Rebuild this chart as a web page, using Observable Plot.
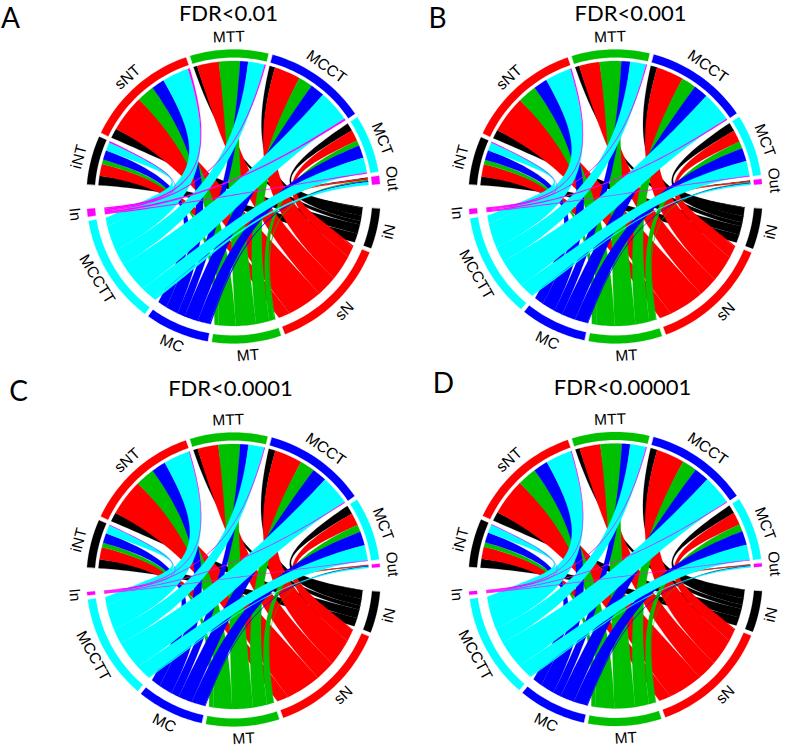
<!DOCTYPE html>
<html>
<head>
<meta charset="utf-8">
<script src="https://cdn.jsdelivr.net/npm/d3@7"></script>
<script src="https://cdn.jsdelivr.net/npm/@observablehq/plot@0.6"></script>
<style>html,body{margin:0;padding:0;background:#fff}svg{display:block}</style>
</head>
<body>
<div id="chart"></div>
<script>
// Categories
const sources = ["iN", "sN", "MT", "MC", "MCCTT", "In"];
const targets = ["iNT", "sNT", "MTT", "MCCT", "MCT", "Out"];
const stateColors = ["#000000", "#ff0000", "#00c000", "#0000ff", "#00ffff", "#ff00ff"];

// Flows: rows = sources, columns = targets
const flowsA = [
  [4.0, 4.2, 1.6, 2.4, 3.5, 0.3],
  [5.2, 16.0, 9.4, 11.4, 4.8, 0.7],
  [1.9, 7.6, 9.1, 6.1, 2.3, 0.5],
  [4.1, 5.7, 3.5, 6.2, 5.5, 0.5],
  [3.7, 11.5, 7.1, 13.7, 6.5, 1.2],
  [0.5, 0.8, 0.5, 0.8, 0.4, 0.0]
];
const flowsB = [
  [3.7, 3.8, 1.8, 2.8, 3.8, 0.2],
  [5.3, 16.0, 8.8, 11.8, 5.2, 0.5],
  [2.0, 8.2, 9.3, 6.3, 3.0, 0.3],
  [4.2, 6.0, 3.8, 6.2, 5.7, 0.3],
  [3.6, 11.2, 6.8, 13.0, 6.4, 0.6],
  [0.3, 0.5, 0.4, 0.5, 0.3, 0.0]
];
const flowsC = [
  [3.8, 3.9, 1.9, 2.9, 3.8, 0.1],
  [5.2, 15.8, 8.9, 12.0, 5.4, 0.3],
  [2.0, 8.3, 9.3, 6.3, 3.1, 0.1],
  [4.2, 6.2, 3.6, 6.3, 6.0, 0.3],
  [3.7, 11.3, 6.8, 12.7, 6.6, 0.5],
  [0.2, 0.3, 0.3, 0.3, 0.2, 0.0]
];
const flowsD = [
  [3.8, 3.9, 1.9, 2.9, 3.7, 0.1],
  [5.2, 15.7, 8.9, 12.1, 5.4, 0.3],
  [2.0, 8.3, 9.2, 6.3, 3.1, 0.1],
  [4.3, 6.3, 3.6, 6.4, 6.0, 0.3],
  [3.6, 11.2, 6.8, 12.6, 6.6, 0.5],
  [0.2, 0.3, 0.3, 0.3, 0.2, 0.0]
];

// Panel layout
const panels = [
  {letter: "A", title: "FDR<0.01",    flows: flowsA, cx: 233, cy: 196,   tx: 228, ty: 13,  lx: 10,  ly: 19},
  {letter: "B", title: "FDR<0.001",   flows: flowsB, cx: 615, cy: 196,   tx: 630, ty: 13,  lx: 437, ly: 19},
  {letter: "C", title: "FDR<0.0001",  flows: flowsC, cx: 233, cy: 579,   tx: 230, ty: 388, lx: 18,  ly: 392},
  {letter: "D", title: "FDR<0.00001", flows: flowsD, cx: 615, cy: 578.5, tx: 622, ty: 387, lx: 443, ly: 384}
];
const ringOuter = 147, ringInner = 139, rSource = 129.5, rTarget = 135.5, rLabel = 159.5;
const smallGap = 1.7, bigGap = 9.7, startAngle = 94.8;
const mu = 0.28, spreadSource = 0.78, spreadTarget = 0.2;

const rad = (a) => a * Math.PI / 180;
const polygons = [], labels = [];
let uid = 0;

for (const p of panels) {
  const pt = (a, r) => [p.cx + r * Math.sin(rad(a)), p.cy - r * Math.cos(rad(a))];
  const rowSum = p.flows.map((r) => d3.sum(r));
  const colSum = targets.map((_, j) => d3.sum(p.flows, (r) => r[j]));
  const total = d3.sum(rowSum) + d3.sum(colSum);
  const k = (360 - 10 * smallGap - 2 * bigGap) / total;

  const pushPoly = (points, fill) => {
    const z = uid++;
    for (const [x, y] of points) polygons.push({x, y, z, fill});
  };
  const arc = (a0, a1, r, n = 24) => d3.range(n + 1).map((i) => pt(a0 + (a1 - a0) * i / n, r));

  // sector angles
  let a = startAngle;
  const sectS = [], sectT = [];
  sources.forEach((name, i) => {
    const e = a + rowSum[i] * k;
    sectS.push([a, e]);
    a = e + (i === sources.length - 1 ? bigGap : smallGap);
  });
  targets.forEach((name, j) => {
    const e = a + colSum[j] * k;
    sectT.push([a, e]);
    a = e + (j === targets.length - 1 ? bigGap : smallGap);
  });

  // ribbon end positions
  const sPos = sources.map(() => []), tPos = sources.map(() => []);
  sources.forEach((_, i) => {
    let s = sectS[i][0];
    for (let j = targets.length - 1; j >= 0; j--) {
      const w = p.flows[i][j] * k;
      sPos[i][j] = [s, s + w];
      s += w;
    }
  });
  targets.forEach((_, j) => {
    let t = sectT[j][0];
    sources.forEach((_, i) => {
      const w = p.flows[i][j] * k;
      tPos[i][j] = [t, t + w];
      t += w;
    });
  });

  // cubic edge from a source angle to a target angle; each end keeps some of
  // the offset it has from the middle of its sector, so bundles stay wide
  const ctrl = (a0, r, mid, spread) => {
    const P = pt(a0, r), M = pt(mid, r);
    return [
      p.cx + mu * (M[0] - p.cx) + spread * (P[0] - M[0]),
      p.cy + mu * (M[1] - p.cy) + spread * (P[1] - M[1])
    ];
  };
  const edge = (as, ms, at, mt, n = 48) => {
    const A = pt(as, rSource), B = pt(at, rTarget);
    const C1 = ctrl(as, rSource, ms, spreadSource), C2 = ctrl(at, rTarget, mt, spreadTarget);
    return d3.range(n + 1).map((i) => {
      const t = i / n, v = 1 - t;
      const b0 = v * v * v, b1 = 3 * v * v * t, b2 = 3 * v * t * t, b3 = t * t * t;
      return [b0 * A[0] + b1 * C1[0] + b2 * C2[0] + b3 * B[0], b0 * A[1] + b1 * C1[1] + b2 * C2[1] + b3 * B[1]];
    });
  };

  // ribbons
  sources.forEach((_, i) => {
    const ms = d3.mean(sectS[i]);
    targets.forEach((_, j) => {
      if (p.flows[i][j] <= 0) return;
      const mt = d3.mean(sectT[j]);
      const [s0, s1] = sPos[i][j], [t0, t1] = tPos[i][j];
      pushPoly([
        ...arc(s0, s1, rSource, 8),
        ...edge(s1, ms, t0, mt),
        ...arc(t0, t1, rTarget, 8),
        ...edge(s0, ms, t1, mt).reverse()
      ], stateColors[i]);
    });
  });

  // rings and sector labels
  const ring = (names, sect) => names.forEach((name, i) => {
    const [a0, a1] = sect[i];
    pushPoly([...arc(a0, a1, ringOuter), ...arc(a1, a0, ringInner)], stateColors[i]);
    const m = (a0 + a1) / 2, mm = ((m % 360) + 360) % 360;
    const [x, y] = pt(m, rLabel);
    labels.push({name, x, y, rotate: mm > 90 && mm < 270 ? mm - 180 : mm});
  });
  ring(sources, sectS);
  ring(targets, sectT);
}

const chart = Plot.plot({
  width: 787,
  height: 751,
  margin: 0,
  style: {background: "#fff"},
  x: {domain: [0, 787], range: [0, 787], axis: null},
  y: {domain: [0, 751], range: [0, 751], axis: null},
  marks: [
    Plot.line(polygons, {
      x: "x", y: "y", z: "z", fill: "fill", stroke: "fill", strokeWidth: 0.2,
      curve: "linear-closed"
    }),
    Plot.text(labels, {
      x: "x", y: "y", text: "name", rotate: "rotate",
      fontFamily: "Liberation Sans", fontSize: 15.5, fill: "#000",
      textAnchor: "middle", lineAnchor: "middle"
    }),
    Plot.text(panels, {
      x: "tx", y: "ty", text: "title",
      fontFamily: "Lato", fontSize: 22, fill: "#000",
      textAnchor: "middle", lineAnchor: "middle"
    }),
    Plot.text(panels, {
      x: "lx", y: "ly", text: "letter",
      fontFamily: "Lato", fontSize: 28, fill: "#000",
      textAnchor: "middle", lineAnchor: "middle"
    })
  ]
});
document.getElementById("chart").appendChild(chart);
</script>
</body>
</html>
